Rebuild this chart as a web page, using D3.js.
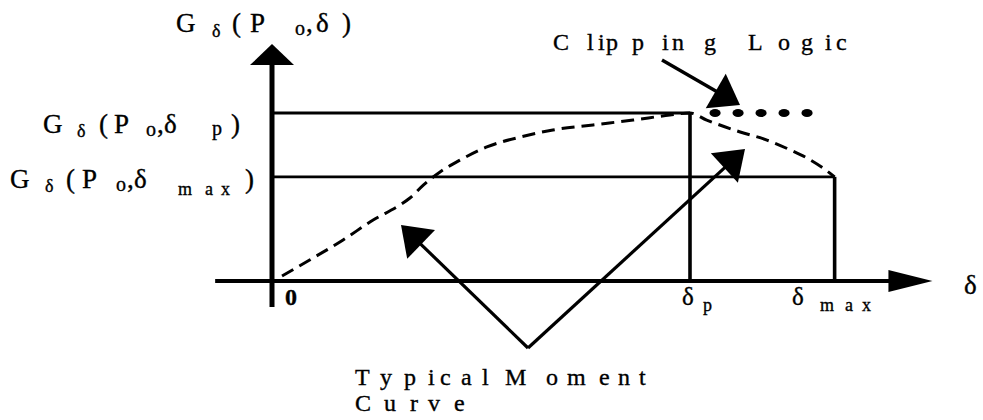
<!DOCTYPE html>
<html>
<head>
<meta charset="utf-8">
<script src="https://cdn.jsdelivr.net/npm/d3@7"></script>
<style>
  body { margin: 0; background: #fff; }
  svg { display: block; }
  text { font-family: "Liberation Serif", "Times New Roman", serif; fill: #000; stroke: #000; stroke-width: 0.35px; }
</style>
</head>
<body>
<svg id="chart" width="983" height="420"></svg>
<script>
// Typical moment curve G_δ(P_o, δ): deflection samples and moment samples
const curveDelta  = [0.12, 0.45, 0.85, 1.21, 1.53, 1.65, 1.81, 2.01, 2.25, 2.57, 2.97, 3.36, 3.84, 4.32, 4.76, 5.00, 5.20, 5.60, 5.92, 6.20, 6.40, 6.59, 6.73];
const curveMoment = [0.03, 0.125, 0.244, 0.363, 0.452, 0.494, 0.571, 0.649, 0.72, 0.798, 0.857, 0.899, 0.929, 0.958, 0.988, 1.00, 0.958, 0.887, 0.839, 0.78, 0.732, 0.673, 0.62];

// Characteristic points
const deltaP = 5.0, deltaMax = 6.73;
const momentP = 1.0, momentMax = 0.62;

// Clipped (held) moment beyond δp
const clipDelta = [5.3, 5.575, 5.85, 6.125, 6.4];

// Axis extents in data units
const xAxisMin = -0.68, xAxisMax = 7.9;
const yAxisMin = -0.155, yAxisMax = 1.41;

const svg = d3.select("#chart");
const x = d3.scaleLinear().domain([0, deltaP]).range([272, 690]);
const y = d3.scaleLinear().domain([0, momentP]).range([281, 113]);

// filled arrow head pointing at (tx,ty), coming from (fx,fy)
function arrowHead(tx, ty, fx, fy, len, half) {
  const dx = tx - fx, dy = ty - fy, d = Math.hypot(dx, dy);
  const ux = dx / d, uy = dy / d;
  const bx = tx - ux * len, by = ty - uy * len;
  return [[tx, ty], [bx - uy * half, by + ux * half], [bx + uy * half, by - ux * half]];
}
function drawArrow(fx, fy, tx, ty, len, half, width) {
  const dx = tx - fx, dy = ty - fy, d = Math.hypot(dx, dy);
  svg.append("line")
    .attr("x1", fx).attr("y1", fy)
    .attr("x2", tx - dx / d * (len - 2)).attr("y2", ty - dy / d * (len - 2))
    .attr("stroke", "#000").attr("stroke-width", width);
  svg.append("polygon")
    .attr("points", arrowHead(tx, ty, fx, fy, len, half).map(p => p.join(",")).join(" "))
    .attr("fill", "#000");
}

// reference levels G(Po,δp) and G(Po,δmax)
svg.append("line").attr("x1", x(0)).attr("x2", x(deltaP))
  .attr("y1", y(momentP)).attr("y2", y(momentP))
  .attr("stroke", "#000").attr("stroke-width", 2.8);
svg.append("line").attr("x1", x(0)).attr("x2", x(deltaMax))
  .attr("y1", y(momentMax)).attr("y2", y(momentMax))
  .attr("stroke", "#000").attr("stroke-width", 2.8);

// verticals at δp and δmax
svg.append("line").attr("x1", x(deltaP)).attr("x2", x(deltaP))
  .attr("y1", y(momentP)).attr("y2", y(0))
  .attr("stroke", "#000").attr("stroke-width", 3.6);
svg.append("line").attr("x1", x(deltaMax)).attr("x2", x(deltaMax))
  .attr("y1", y(momentMax)).attr("y2", y(0))
  .attr("stroke", "#000").attr("stroke-width", 3.6);

// axes with arrow heads
svg.append("line").attr("x1", x(xAxisMin)).attr("x2", x(xAxisMax) - 40)
  .attr("y1", y(0)).attr("y2", y(0))
  .attr("stroke", "#000").attr("stroke-width", 3.8);
svg.append("polygon")
  .attr("points", arrowHead(x(xAxisMax), y(0), x(0), y(0), 44, 11).map(p => p.join(",")).join(" "))
  .attr("fill", "#000");
svg.append("line").attr("x1", x(0)).attr("x2", x(0))
  .attr("y1", y(yAxisMin)).attr("y2", y(yAxisMax) + 19)
  .attr("stroke", "#000").attr("stroke-width", 5);
svg.append("polygon")
  .attr("points", arrowHead(x(0), y(yAxisMax), x(0), y(0), 21, 22).map(p => p.join(",")).join(" "))
  .attr("fill", "#000");

// dashed moment curve
const pts = curveDelta.map((d, i) => [d, curveMoment[i]]);
svg.append("path")
  .attr("d", d3.line().x(d => x(d[0])).y(d => y(d[1])).curve(d3.curveMonotoneX)(pts))
  .attr("fill", "none").attr("stroke", "#000")
  .attr("stroke-width", 3).attr("stroke-dasharray", "13,7");

// clipped moment dots
svg.selectAll("ellipse.clip").data(clipDelta).enter().append("ellipse")
  .attr("class", "clip")
  .attr("cx", d => x(d)).attr("cy", y(momentP))
  .attr("rx", 5.6).attr("ry", 4).attr("fill", "#000");

// annotation arrows
drawArrow(662, 60, 740, 105, 28, 20, 3.4);
drawArrow(528, 348, 401, 225, 28, 20, 3.2);
drawArrow(528, 348, 745, 149, 28, 20, 3.2);

// glyph-by-glyph text runs: [text, x, baseline, size, weight]
function glyphs(list) {
  list.forEach(g => {
    svg.append("text")
      .attr("x", g[1]).attr("y", g[2])
      .attr("font-size", g[3])
      .attr("font-weight", g[4] || "normal")
      .text(g[0]);
  });
}

const labelTop = [["G",176,32,27],["δ",212,37,18],["(",232,32,27],["P",250,32,27],["o",295,35,20],[",",306,32,27],["δ",316,32,27],[")",342,32,27]];
const labelP   = [["G",43,133,27],["δ",77,137,18],["(",99,133,27],["P",114,133,27],["o",146,136,20],[",",157,133,27],["δ",164,133,27],["p",212,135,20],[")",231,133,27]];
const labelMax = [["G",10,188,27],["δ",45,192,18],["(",66,188,27],["P",82,188,27],["o",116,191,20],[",",127,188,27],["δ",134,188,27],["m",178,195,18],["a",205,195,18],["x",221,195,18],[")",245,188,27]];
glyphs(labelTop); glyphs(labelP); glyphs(labelMax);

// tick labels on the δ axis
glyphs([["0",285,305,24,"bold"]]);
glyphs([["δ",682,305,25],["p",703,311,18]]);
glyphs([["δ",792,305,25],["m",820,311,18],["a",845,311,18],["x",862,311,18]]);
glyphs([["δ",964,294,27]]);

// annotation texts
glyphs([["C",553,50,24],["l",587,50,24],["i",598,50,24],["p",606,50,24],["p",632,50,24],["i",662,50,24],["n",672,50,24],["g",704,50,24],
        ["L",748,50,24],["o",778,50,24],["g",801,50,24],["i",825,50,24],["c",836,50,24]]);
glyphs([["T",355,385,24],["y",380,385,24],["p",404,385,24],["i",428,385,24],["c",440,385,24],["a",461,385,24],["l",482,385,24],
        ["M",505,385,24],["o",546,385,24],["m",567,385,24],["e",599,385,24],["n",618,385,24],["t",639,385,24]]);
glyphs([["C",355,411,24],["u",384,411,24],["r",410,411,24],["v",428,411,24],["e",454,411,24]]);
</script>
</body>
</html>
